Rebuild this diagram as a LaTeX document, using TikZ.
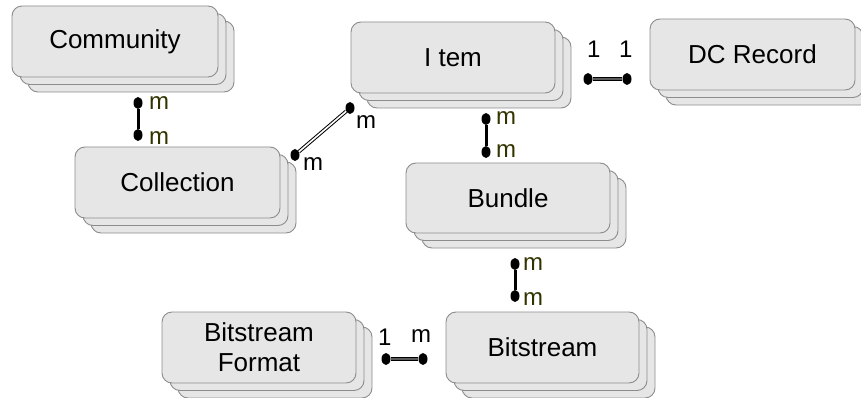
\documentclass[tikz,border=0pt]{standalone}
\usepackage{fontspec}
\setmainfont{Liberation Sans}
\usetikzlibrary{shapes.geometric}
\definecolor{boxfill}{RGB}{230,230,230}
\definecolor{boxline}{RGB}{140,140,140}
\definecolor{labolive}{RGB}{51,51,0}
\definecolor{midgray}{RGB}{90,90,90}
\tikzset{
  boxst/.style={draw=boxline, fill=boxfill, line width=0.9pt, rounded corners=10pt, inner sep=0pt, align=center, font=\fontsize{26}{30}\selectfont},
  dotst/.style={ellipse, fill=black, draw=none, inner sep=0pt, minimum width=9pt, minimum height=12pt},
  vline/.style={line width=3pt, black},
  dline/.style={line width=1pt, black, double=white, double distance=1.6pt},
  hline/.style={line width=1.1pt, black, double=midgray, double distance=1.4pt},
  labo/.style={anchor=base west, inner sep=0pt, text=labolive, font=\fontsize{24}{28}\selectfont},
  labk/.style={anchor=base west, inner sep=0pt, text=black, font=\fontsize{24}{28}\selectfont}
}
\newcommand\stk[6]{%
  \node[boxst, minimum width=#4, minimum height=#5] (#1b2) at (#2+16,#3+15) {};
  \node[boxst, minimum width=#4, minimum height=#5] (#1b1) at (#2+8,#3+7.5) {};
  \node[boxst, minimum width=#4, minimum height=#5] (#1) at (#2,#3) {#6};
}
\begin{document}
\begin{tikzpicture}[x=1pt,y=-1pt]
\useasboundingbox (0,0) rectangle (861,398);
\stk{community}{115}{41.5}{206pt}{71pt}{Community}
\stk{collection}{177.5}{182.5}{205pt}{71pt}{Collection}
\stk{item}{453}{57.5}{204pt}{71pt}{I tem}
\stk{dc}{752.5}{54.5}{205pt}{71pt}{DC Record}
\stk{bundle}{508}{198}{204pt}{70pt}{Bundle}
\stk{bsf}{259}{347.5}{194pt}{71pt}{Bitstream\\Format}
\stk{bs}{542.5}{347.5}{193pt}{71pt}{Bitstream}
% Community - Collection
\node[dotst] (d1a) at (138,103) {};
\node[dotst] (d1b) at (138,135) {};
\draw[vline] (d1a) -- (d1b);
\node[labo] (l1a) at (149,110) {m};
\node[labo] (l1b) at (149,145) {m};
% Collection - Item
\node[dotst] (d2a) at (295,155) {};
\node[dotst] (d2b) at (350,108) {};
\draw[dline] (d2a) -- (d2b);
\node[labk] (l2a) at (303,171) {m};
\node[labk] (l2b) at (356,129) {m};
% Item - DC Record
\node[dotst] (d3a) at (588,79) {};
\node[dotst] (d3b) at (627,79) {};
\draw[hline] (d3a) -- (d3b);
\node[labk] (l3a) at (587,58) {1};
\node[labk] (l3b) at (619,58) {1};
% Item - Bundle
\node[dotst] (d4a) at (486,119) {};
\node[dotst] (d4b) at (486,152) {};
\draw[vline] (d4a) -- (d4b);
\node[labo] (l4a) at (496,125) {m};
\node[labo] (l4b) at (496,158) {m};
% Bundle - Bitstream
\node[dotst] (d5a) at (515,264) {};
\node[dotst] (d5b) at (515,296) {};
\draw[vline] (d5a) -- (d5b);
\node[labo] (l5a) at (523,270) {m};
\node[labo] (l5b) at (523,305) {m};
% Bitstream Format - Bitstream
\node[dotst] (d6a) at (386,359) {};
\node[dotst] (d6b) at (423,359) {};
\draw[hline] (d6a) -- (d6b);
\node[labk] (l6a) at (378,345) {1};
\node[labk] (l6b) at (411,342) {m};
\end{tikzpicture}
\end{document}
